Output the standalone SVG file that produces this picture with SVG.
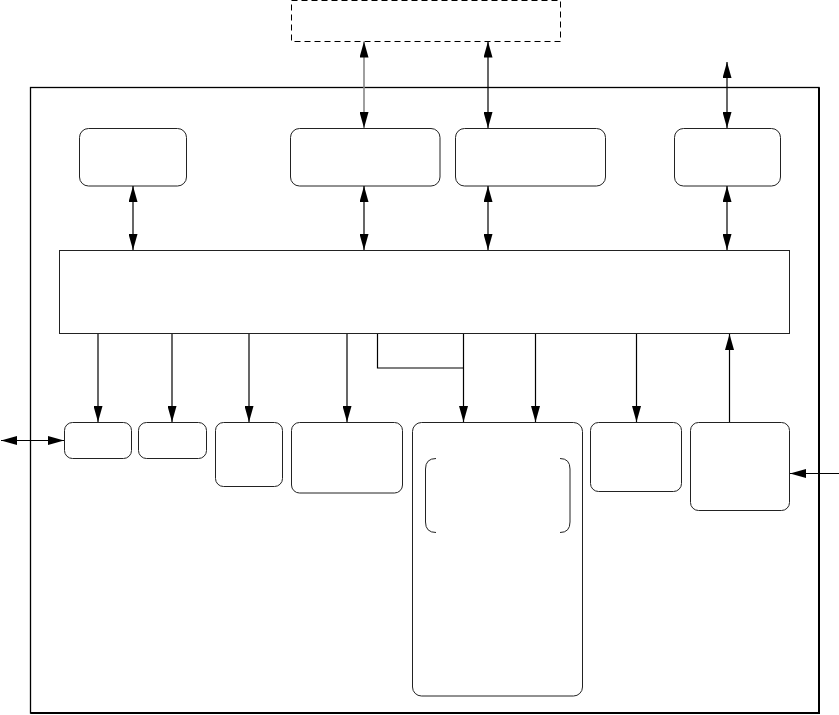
<svg xmlns="http://www.w3.org/2000/svg" width="839" height="715" viewBox="0 0 839 715">
<defs>
<marker id="ah" markerUnits="userSpaceOnUse" markerWidth="16" markerHeight="9" refX="16" refY="4.5" orient="auto-start-reverse" viewBox="0 0 16 9">
<path d="M0,0 L16,4.5 L0,9 z" fill="#000"/>
</marker>
<style>
.box{fill:#fff;stroke:#222;stroke-width:1}
.c{fill:none;stroke:#000;stroke-width:1.2}
.a{marker-end:url(#ah)}
.d{marker-start:url(#ah);marker-end:url(#ah)}
</style>
</defs>
<rect width="839" height="715" fill="#fff"/>
<g id="outer">
<rect x="30.5" y="87.5" width="788.5" height="625.5" fill="none" stroke="#000" stroke-width="1.3"/>
<path d="M819,87.5 V713 H30.5" fill="none" stroke="#000" stroke-width="2"/>
</g>
<g id="external">
<rect x="291.5" y="0.5" width="269" height="41" fill="#fff" stroke="#000" stroke-width="1" stroke-dasharray="6,4"/>
</g>
<g id="top1"><rect class="box" x="79.5" y="128.5" width="107" height="57.5" rx="9"/></g>
<g id="top2"><rect class="box" x="290.5" y="128.5" width="149.5" height="57.5" rx="9"/></g>
<g id="top3"><rect class="box" x="455.5" y="128.5" width="150" height="57.5" rx="9"/></g>
<g id="top4"><rect class="box" x="674.5" y="128.5" width="106" height="57.5" rx="9"/></g>
<g id="bus"><rect class="box" x="59.5" y="250.5" width="730" height="83"/></g>
<g id="b1"><rect class="box" x="64.5" y="422.5" width="67" height="36" rx="8"/></g>
<g id="b2"><rect class="box" x="138.5" y="422.5" width="68" height="36" rx="8"/></g>
<g id="b3"><rect class="box" x="215.5" y="422.5" width="67" height="64" rx="8"/></g>
<g id="b4"><rect class="box" x="291.5" y="422.5" width="111" height="70.5" rx="8"/></g>
<g id="b5">
<rect class="box" x="412.5" y="422.5" width="170" height="273.5" rx="9"/>
<path d="M436,458.5 Q425.5,458.5 425.5,469 V522 Q425.5,532.5 436,532.5" fill="none" stroke="#222" stroke-width="1"/>
<path d="M560,458.5 Q570,458.5 570,469 V522 Q570,532.5 560,532.5" fill="none" stroke="#222" stroke-width="1"/>
</g>
<g id="b6"><rect class="box" x="590.5" y="422.5" width="91" height="69" rx="8"/></g>
<g id="b7"><rect class="box" x="690.5" y="422.5" width="99" height="88" rx="8"/></g>
<g id="connectors">
<line class="d" x1="364" y1="41.5" x2="364" y2="128" stroke="#888" stroke-width="1.6"/>
<line class="c d" x1="488" y1="41.5" x2="488" y2="128"/>
<line class="c d" x1="727" y1="62" x2="727" y2="128"/>
<line class="c d" x1="133" y1="186" x2="133" y2="250"/>
<line class="c d" x1="364" y1="186" x2="364" y2="250"/>
<line class="c d" x1="488" y1="186" x2="488" y2="250"/>
<line class="c d" x1="727" y1="186" x2="727" y2="250"/>
<line class="c a" x1="98" y1="334" x2="98" y2="422"/>
<line class="c a" x1="172" y1="334" x2="172" y2="422"/>
<line class="c a" x1="249" y1="334" x2="249" y2="422"/>
<line class="c a" x1="347" y1="334" x2="347" y2="422"/>
<line class="c a" x1="463.5" y1="334" x2="463.5" y2="422"/>
<path class="c" d="M377.5,334 V368 H463.5"/>
<line class="c a" x1="535.5" y1="334" x2="535.5" y2="422"/>
<line class="c a" x1="636.5" y1="334" x2="636.5" y2="422"/>
<line class="c a" x1="729.5" y1="422" x2="729.5" y2="334"/>
<line class="c d" x1="1" y1="440.5" x2="64" y2="440.5"/>
<line class="c a" x1="839" y1="473.5" x2="790" y2="473.5"/>
</g>
</svg>
